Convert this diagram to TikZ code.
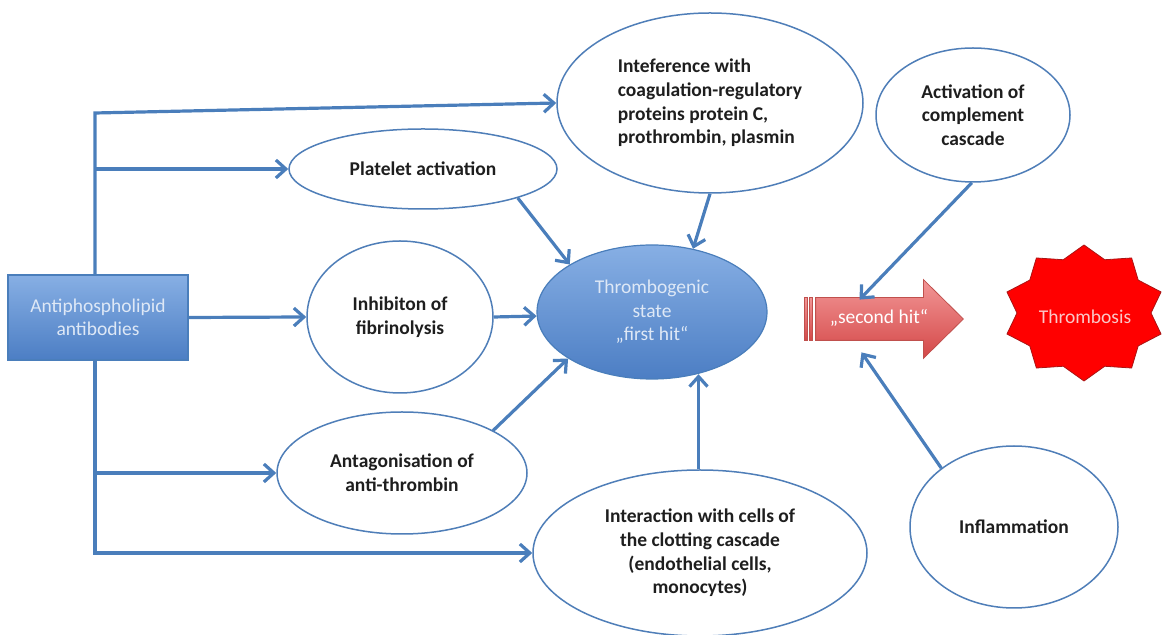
\documentclass[tikz,border=0pt]{standalone}
\usepackage{fontspec}
\setmainfont{Carlito}
\usetikzlibrary{shapes.geometric,arrows.meta,calc}
\definecolor{lineblue}{RGB}{74,126,187}
\definecolor{ovalblue}{RGB}{79,126,184}
\definecolor{textdark}{RGB}{30,30,30}
\definecolor{lighttext}{RGB}{222,232,246}
\definecolor{boxtop}{RGB}{135,175,228}
\definecolor{boxbot}{RGB}{76,126,196}
\definecolor{hittop}{RGB}{242,150,150}
\definecolor{hitbot}{RGB}{212,72,72}
\definecolor{hitline}{RGB}{192,80,77}
\definecolor{starline}{RGB}{170,20,20}
\definecolor{startext}{RGB}{250,200,200}
\newcommand\fsz{\fontsize{9.75}{11.8}\selectfont}
\begin{document}
\begin{tikzpicture}[x=0.5pt,y=-0.5pt,
  conn/.style={draw=lineblue,line width=1.6pt},
  arr/.style={conn,-{Straight Barb[length=5pt,width=9pt]}},
  oval/.style={ellipse,draw=ovalblue,line width=0.75pt,fill=white,inner sep=0pt,
    align=center,font=\fsz\bfseries,text=textdark},
  bluefill/.style={top color=boxtop,bottom color=boxbot,draw=lineblue,line width=0.6pt,
    font=\fsz,text=lighttext,align=center,inner sep=0pt}]
\path[use as bounding box] (0,0) rectangle (1163,635);

% nodes
\node[bluefill,rectangle,minimum width=90pt,minimum height=42.5pt] (box) at (98,317.5) {Antiphospholipid\\antibodies};
\node[oval,align=left,minimum width=153pt,minimum height=90pt] (int) at (710,103) {Inteference with\\coagulation-regulatory\\proteins protein C,\\prothrombin, plasmin};
\node[oval,minimum width=97pt,minimum height=67pt] (act) at (973,115) {Activation of\\complement\\cascade};
\node[oval,minimum width=134pt,minimum height=40pt] (plat) at (423,169) {Platelet activation};
\node[oval,minimum width=93pt,minimum height=76pt] (inh) at (400,317) {Inhibiton of\\fibrinolysis};
\node[bluefill,ellipse,minimum width=115pt,minimum height=67pt] (thr) at (652,312) {Thrombogenic\\state\\„first hit“};
\node[oval,minimum width=125pt,minimum height=61pt] (ant) at (402,473) {Antagonisation of\\anti-thrombin};
\node[oval,minimum width=167pt,minimum height=83pt] (ia) at (700,553) {Interaction with cells of\\the clotting cascade\\(endothelial cells,\\monocytes)};
\node[oval,minimum width=104pt,minimum height=81pt] (infl) at (1014,527) {Inflammation};

% second hit striped arrow
\node[rectangle,inner sep=0pt,minimum width=53.5pt,minimum height=21pt] (sh) at (869.5,319) {};
\path[top color=hittop,bottom color=hitbot,draw=hitline,line width=0.4pt]
  (sh.north west) -- (sh.north east) -- ($(sh.north east)+(0,-18)$) -- ($(sh.east)+(40,0)$)
  -- ($(sh.south east)+(0,18)$) -- (sh.south east) -- (sh.south west) -- cycle;
\path[top color=hittop,bottom color=hitbot,draw=hitline,line width=0.3pt]
  ($(sh.north west)+(-11,0)$) rectangle ($(sh.south west)+(-8,0)$);
\path[top color=hittop,bottom color=hitbot,draw=hitline,line width=0.3pt]
  ($(sh.north west)+(-6,0)$) rectangle ($(sh.south west)+(-3,0)$);
\node[font=\fsz,text=white,inner sep=0pt] (shtext) at (879,318) {„second hit“};

% thrombosis star
\path[fill=red,draw=starline,line width=0.4pt,shift={(1084,313)}]
  (90:81 and 68) \foreach \k in {0,...,9} { -- ({108+36*\k}:67 and 56) -- ({126+36*\k}:81 and 68) } -- cycle;
\node[font=\fsz,text=startext,inner sep=0pt] (thb) at (1085,317) {Thrombosis};

% trunk and branches
\coordinate (t1) at (95,113);
\draw[arr] (box.north -| t1) -- (t1) -- (int.west);
\draw[arr] (plat.west -| t1) -- (plat.west);
\draw[arr] (box.east) -- (inh.west);
\draw[arr] (ant.west -| t1) -- (ant.west);
\draw[arr] (box.south -| t1) -- (ia.west -| t1) -- (ia.west);

% into thrombogenic state
\draw[arr] (plat.-17) -- (thr.150);
\draw[arr] (int.-90) -- (thr.57);
\draw[arr] (inh.east) -- (thr.182);
\draw[arr] (ant.25) -- (thr.209);
\draw[arr] (ia.91) -- (ia.91 |- thr.-54);

% into second hit
\draw[arr] (act.-91) -- ($(sh.north)+(-10,2)$);
\draw[arr] (infl.141) -- ($(sh.south)+(-8,12)$);
\end{tikzpicture}
\end{document}
